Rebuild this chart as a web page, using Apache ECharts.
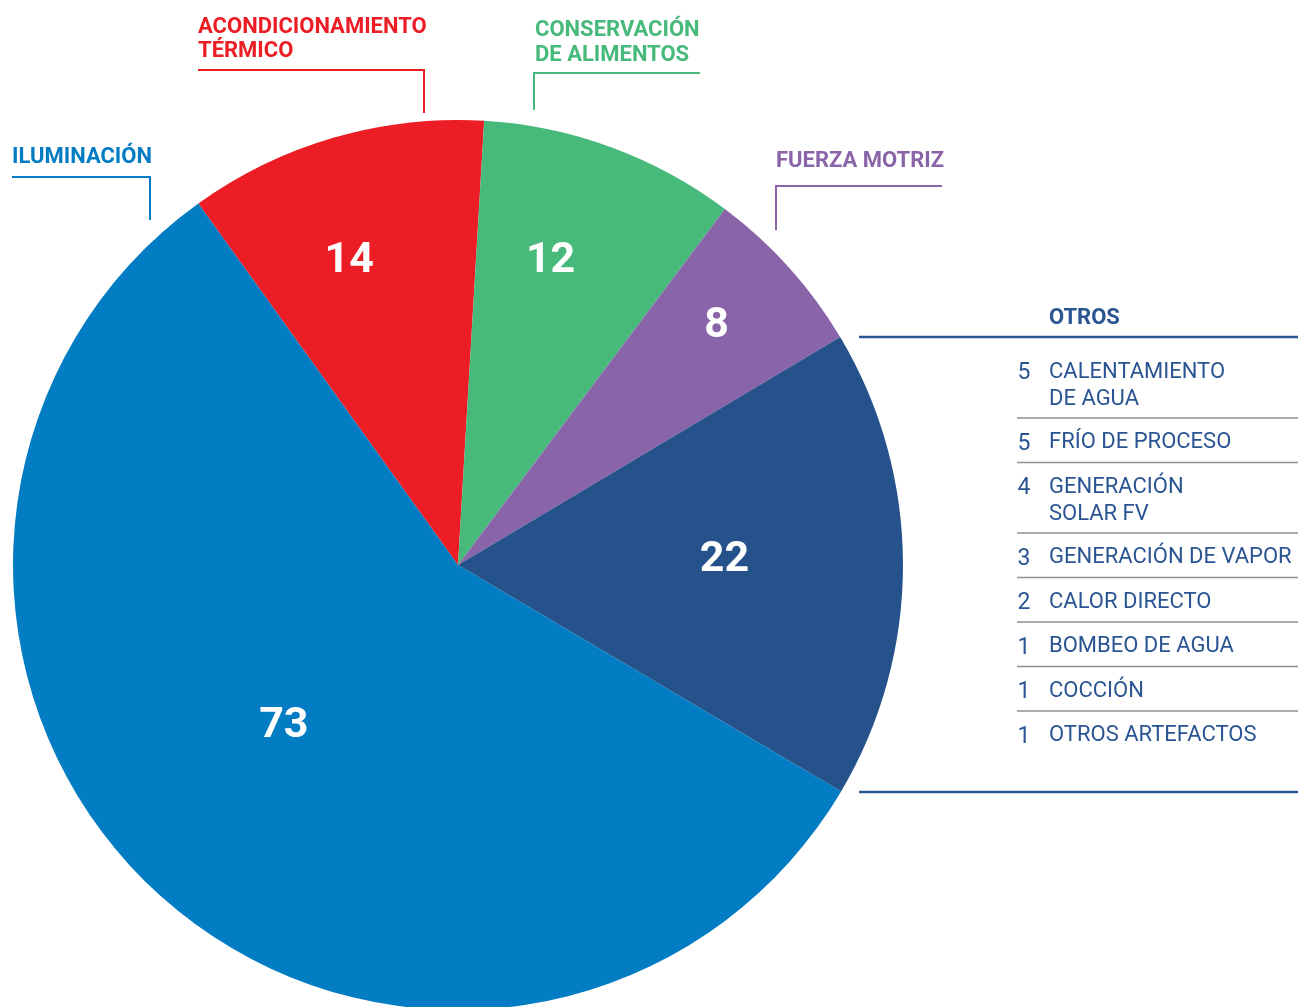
<!DOCTYPE html>
<html><head><meta charset="utf-8">
<script src="https://cdn.jsdelivr.net/npm/echarts@6/dist/echarts.min.js"></script>
<style>html,body{margin:0;padding:0;background:#fff}#c{width:1298px;height:1007px}</style>
</head><body><div id="c"></div>
<script>
// ---- data ----
const categories = ['ACONDICIONAMIENTO\nTÉRMICO', 'CONSERVACIÓN\nDE ALIMENTOS', 'FUERZA MOTRIZ', 'OTROS', 'ILUMINACIÓN'];
const values = [14, 12, 8, 22, 73];
const otrosNames = ['CALENTAMIENTO\nDE AGUA', 'FRÍO DE PROCESO', 'GENERACIÓN\nSOLAR FV', 'GENERACIÓN DE VAPOR', 'CALOR DIRECTO', 'BOMBEO DE AGUA', 'COCCIÓN', 'OTROS ARTEFACTOS'];
const otrosValues = [5, 5, 4, 3, 2, 1, 1, 1];

// ---- styles ----
const colors = ['#EC1D25', '#46B97B', '#8A64A8', '#25528B', '#027CC2'];
const labelOffsets = [[-46, -87], [15, -92], [91, -88], [41, -4], [-22, -5]];
const FONT = 'Roboto, "DejaVu Sans", sans-serif';
const navyText = '#2A5592';
const TS = 2; // text vertical nudge

// callout layout (text top-left + leader polyline) for categories except OTROS
const callouts = {
  0: { x: 198, yc: 25.3, pts: [[198, 70], [424, 70], [424, 113]] },
  1: { x: 535, yc: 28.5, pts: [[534, 110], [534, 73], [700, 73]] },
  2: { x: 776, yc: 159.2, pts: [[776, 230], [776, 186], [942, 186]] },
  4: { x: 12, yc: 155.8, pts: [[12, 177], [150, 177], [150, 220]] }
};

const graphics = [];
const LH = 24.5;
Object.keys(callouts).forEach(k => {
  const i = +k, c = callouts[k];
  graphics.push({
    type: 'text', x: c.x, y: c.yc - LH / 2 + TS, silent: true,
    style: { text: categories[i], fill: colors[i], font: 'bold 22px ' + FONT, lineHeight: LH, verticalAlign: 'top', align: 'left' }
  });
  graphics.push({
    type: 'polyline', silent: true, shape: { points: c.pts },
    style: { stroke: colors[i], lineWidth: 2, fill: null }
  });
});

// OTROS table
const tblLeft = 859, tblRight = 1298, rowLeft = 1017, numX = 1024, nameX = 1049;
graphics.push({
  type: 'text', x: nameX, y: 316.7 - 13 + TS, silent: true,
  style: { text: categories[3], fill: navyText, font: 'bold 22px ' + FONT, lineHeight: 26, verticalAlign: 'top' }
});
graphics.push({ type: 'line', silent: true, shape: { x1: tblLeft, y1: 337, x2: tblRight, y2: 337 }, style: { stroke: '#2A5592', lineWidth: 2.5 } });
let capTop = 362;
const RLH = 27;
otrosNames.forEach((n, i) => {
  const lines = n.split('\n').length;
  const yc = capTop + 8.3 + TS;
  graphics.push({
    type: 'text', x: numX, y: yc - RLH / 2 + 1, silent: true,
    style: { text: String(otrosValues[i]), fill: navyText, font: '23px ' + FONT, lineHeight: RLH, verticalAlign: 'top', align: 'center' }
  });
  graphics.push({
    type: 'text', x: nameX, y: yc - RLH / 2, silent: true,
    style: { text: n, fill: navyText, font: '22px ' + FONT, lineHeight: RLH, verticalAlign: 'top', align: 'left' }
  });
  const sep = capTop + 30 + (lines - 1) * 26;
  if (i < otrosNames.length - 1) {
    graphics.push({ type: 'line', silent: true, shape: { x1: rowLeft, y1: sep, x2: tblRight, y2: sep }, style: { stroke: '#8f8f8f', lineWidth: 1.5 } });
  }
  capTop = sep + 14.5;
});
graphics.push({ type: 'line', silent: true, shape: { x1: tblLeft, y1: 792, x2: tblRight, y2: 792 }, style: { stroke: '#2A5592', lineWidth: 2.5 } });

const chart = echarts.init(document.getElementById('c'), null, { renderer: 'canvas' });
chart.setOption({
  animation: false,
  backgroundColor: '#ffffff',
  series: [{
    type: 'pie',
    center: [458, 565],
    radius: [0, 445],
    startAngle: 125.7,
    clockwise: true,
    avoidLabelOverlap: false,
    emphasis: { disabled: true },
    itemStyle: { borderWidth: 0 },
    label: {
      show: true, position: 'inside', formatter: '{c}',
      color: '#ffffff', fontSize: 43, fontWeight: 'bold', fontFamily: FONT
    },
    labelLine: { show: false },
    data: values.map((v, i) => ({
      name: categories[i].replace('\n', ' '), value: v,
      itemStyle: { color: colors[i] },
      label: { offset: labelOffsets[i] }
    }))
  }],
  graphic: { elements: graphics }
});
</script>
</body></html>
